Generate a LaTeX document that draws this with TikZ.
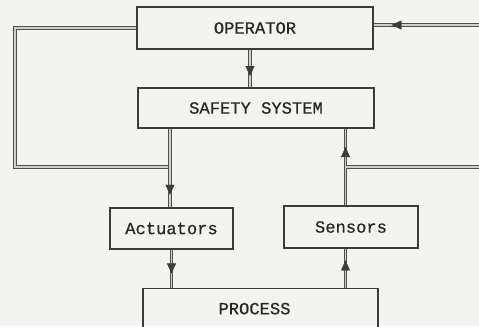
\documentclass[tikz,border=0pt]{standalone}
\usepackage{fontspec}
\newfontfamily\tw[FakeBold=0.6]{Liberation Mono}
\usetikzlibrary{arrows.meta,decorations.markings,calc}
\definecolor{paper}{RGB}{243,243,240}
\definecolor{ink}{RGB}{60,60,60}
\tikzset{
  box/.style={draw=ink, line width=1.3bp, inner sep=0pt,
    font=\tw\fontsize{17.2}{19}\selectfont, text=black!85},
  wire/.style={draw=ink!90, line width=1.1bp, double=paper!85!black, double distance=1.3bp},
  tipat/.style={postaction={decorate}, decoration={markings,
    mark=at position #1 with {\arrow[ink]{Triangle[width=9bp,length=10bp]}}}}
}
\begin{document}
\begin{tikzpicture}[x=1bp,y=-1bp]
  \fill[paper] (0,0) rectangle (479,326);
  \useasboundingbox (0,0) rectangle (479,326);
  \clip (0,0) rectangle (479,326);

  % boxes
  \node[box, minimum width=236bp, minimum height=42bp] (op)   at (255,28)    {OPERATOR};
  \node[box, minimum width=236bp, minimum height=40bp] (safe) at (256,108)   {SAFETY SYSTEM};
  \node[box, minimum width=123bp, minimum height=41bp] (act)  at (171.5,228.5) {Actuators};
  \node[box, minimum width=134bp, minimum height=42bp] (sens) at (351,227)   {Sensors};
  \node[box, minimum width=235bp, minimum height=40bp, anchor=north] (proc) at (260.5,288) {\hspace*{-12bp}PROCESS};

  % helper coordinates
  \coordinate (lc) at (15,167);
  \coordinate (lj) at (170,167);
  \coordinate (rj) at (345.5,167);
  \coordinate (re) at (485,167);
  \coordinate (te) at (485,25);

  % connectors
  \draw[wire] (op.south -| 250,0) -- (safe.north -| 250,0);
  \path[tipat=0.7] (op.south -| 250,0) -- (safe.north -| 250,0);

  \draw[wire] (op.west) -| (lc) -- (lj);
  \draw[wire] (safe.south -| lj) -- (act.north -| lj);
  \path[tipat=0.84] (safe.south -| lj) -- (act.north -| lj);

  \draw[wire] (act.south) -- (act.south |- proc.north);
  \path[tipat=0.62] (act.south) -- (act.south |- proc.north);

  \draw[wire] (proc.north -| rj) -- (sens.south -| rj);
  \path[tipat=0.7] (proc.north -| rj) -- (sens.south -| rj);

  \draw[wire] (sens.north -| rj) -- (safe.south -| rj);
  \path[tipat=0.76] (sens.north -| rj) -- (safe.south -| rj);
  \draw[wire] (rj) -- (re);

  \draw[wire] (te) -- (op.east |- te);
  \path[tipat=0.84] (te) -- (op.east |- te);
\end{tikzpicture}
\end{document}
